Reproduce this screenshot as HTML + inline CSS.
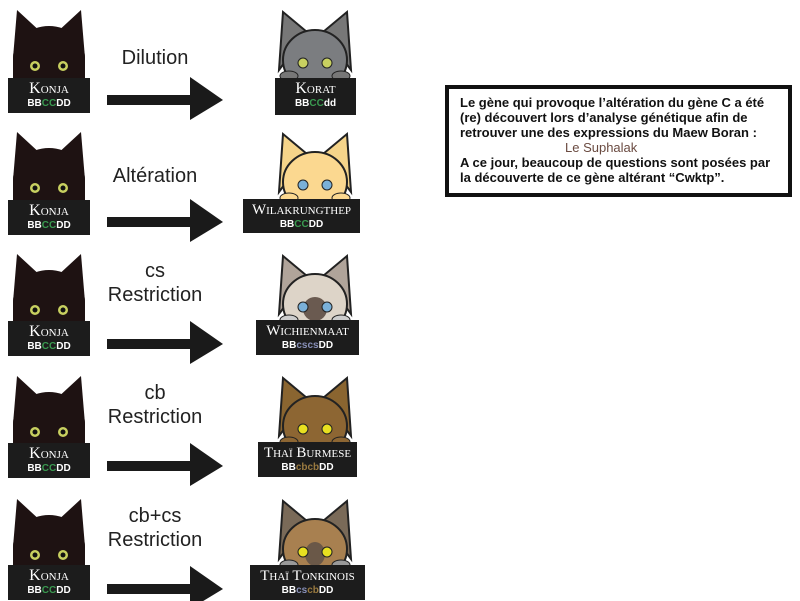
<!DOCTYPE html>
<html><head><meta charset="utf-8"><style>
body{margin:0;background:#fff;width:800px;height:601px;overflow:hidden;position:relative;font-family:"Liberation Sans",sans-serif}
.lbl{position:absolute;background:#1c1c1c;color:#fff;text-align:center;white-space:nowrap;overflow:hidden}
.n{font-family:"Liberation Serif",serif;font-variant:small-caps;font-size:16px;line-height:18px;padding-top:2px}
.g{font-size:10px;font-weight:bold;line-height:12px}
.t{position:absolute;font-size:20px;color:#222;text-align:center;width:140px;line-height:24px}
.box{position:absolute;left:445px;top:85px;width:347px;height:112px;border:4px solid #111;font-size:13px;font-weight:bold;line-height:15px;padding:6px 0 0 11px;box-sizing:border-box;color:#111;white-space:nowrap}
</style></head><body>
<svg width="800" height="601" style="position:absolute;left:0;top:0">
<defs>
<g id="arrow"><rect x="107" y="95" width="85" height="10" fill="#1a1a1a"/><polygon points="190,77 223,100 190,120" fill="#1a1a1a"/></g>
<g id="konja">
<polygon points="4,50 8,2 34,26" fill="#1e1212"/><polygon points="76,50 72,2 46,26" fill="#1e1212"/>
<ellipse cx="40" cy="50" rx="36" ry="32" fill="#1e1212"/>
<rect x="4" y="50" width="72" height="22" fill="#1e1212"/>
<circle cx="26" cy="58" r="5" fill="#c8d060"/><circle cx="26" cy="58" r="2.5" fill="#111"/>
<circle cx="54" cy="58" r="5" fill="#c8d060"/><circle cx="54" cy="58" r="2.5" fill="#111"/>
</g>
</defs>
<use href="#konja" transform="translate(9,8)"/><use href="#konja" transform="translate(9,130)"/><use href="#konja" transform="translate(9,252)"/><use href="#konja" transform="translate(9,374)"/><use href="#konja" transform="translate(9,497)"/>
<use href="#arrow"/><use href="#arrow" y="122"/><use href="#arrow" y="244"/><use href="#arrow" y="366"/><use href="#arrow" y="489"/>
<g transform="translate(275,10)">
<polygon points="4,60 8,2 32,22" fill="#777" stroke="#222" stroke-width="2"/><polygon points="76,60 72,2 48,22" fill="#777" stroke="#222" stroke-width="2"/>
<ellipse cx="40" cy="50" rx="32" ry="30" fill="#7b7d80" stroke="#222" stroke-width="2"/>
<circle cx="28" cy="53" r="5" fill="#c8d060" stroke="#222"/><circle cx="52" cy="53" r="5" fill="#c8d060" stroke="#222"/>
<ellipse cx="14" cy="66" rx="9" ry="5" fill="#777" stroke="#222"/><ellipse cx="66" cy="66" rx="9" ry="5" fill="#777" stroke="#222"/>
</g>
<g transform="translate(275,132)">
<polygon points="4,60 8,2 32,22" fill="#f5d48a" stroke="#222" stroke-width="2"/><polygon points="76,60 72,2 48,22" fill="#f5d48a" stroke="#222" stroke-width="2"/>
<ellipse cx="40" cy="50" rx="32" ry="30" fill="#fbd890" stroke="#222" stroke-width="2"/>
<circle cx="28" cy="53" r="5" fill="#7ab0d8" stroke="#222"/><circle cx="52" cy="53" r="5" fill="#7ab0d8" stroke="#222"/>
<ellipse cx="14" cy="66" rx="9" ry="5" fill="#fbd890" stroke="#222"/><ellipse cx="66" cy="66" rx="9" ry="5" fill="#fbd890" stroke="#222"/>
</g>
<g transform="translate(275,254)">
<polygon points="4,60 8,2 32,22" fill="#b0a49a" stroke="#222" stroke-width="2"/><polygon points="76,60 72,2 48,22" fill="#b0a49a" stroke="#222" stroke-width="2"/>
<ellipse cx="40" cy="50" rx="32" ry="30" fill="#ddd4c8" stroke="#222" stroke-width="2"/>
<ellipse cx="40" cy="55" rx="12" ry="12" fill="#6a5a50"/>
<circle cx="28" cy="53" r="5" fill="#7ab0d8" stroke="#222"/><circle cx="52" cy="53" r="5" fill="#7ab0d8" stroke="#222"/>
<ellipse cx="14" cy="66" rx="9" ry="5" fill="#ccc" stroke="#222"/><ellipse cx="66" cy="66" rx="9" ry="5" fill="#ccc" stroke="#222"/>
</g>
<g transform="translate(275,376)">
<polygon points="4,60 8,2 32,22" fill="#8a6530" stroke="#222" stroke-width="2"/><polygon points="76,60 72,2 48,22" fill="#8a6530" stroke="#222" stroke-width="2"/>
<ellipse cx="40" cy="50" rx="32" ry="30" fill="#8d6633" stroke="#222" stroke-width="2"/>
<circle cx="28" cy="53" r="5" fill="#e8e020" stroke="#222"/><circle cx="52" cy="53" r="5" fill="#e8e020" stroke="#222"/>
<ellipse cx="14" cy="66" rx="9" ry="5" fill="#8d6633" stroke="#222"/><ellipse cx="66" cy="66" rx="9" ry="5" fill="#8d6633" stroke="#222"/>
</g>
<g transform="translate(275,499)">
<polygon points="4,60 8,2 32,22" fill="#7a6a58" stroke="#222" stroke-width="2"/><polygon points="76,60 72,2 48,22" fill="#7a6a58" stroke="#222" stroke-width="2"/>
<ellipse cx="40" cy="50" rx="32" ry="30" fill="#a88050" stroke="#222" stroke-width="2"/>
<ellipse cx="40" cy="55" rx="10" ry="12" fill="#6a5848"/>
<circle cx="28" cy="53" r="5" fill="#e8e020" stroke="#222"/><circle cx="52" cy="53" r="5" fill="#e8e020" stroke="#222"/>
<ellipse cx="14" cy="66" rx="9" ry="5" fill="#999" stroke="#222"/><ellipse cx="66" cy="66" rx="9" ry="5" fill="#999" stroke="#222"/>
</g>
</svg>

<div class="lbl" style="left:8px;top:78px;width:82px;height:35px"><div class="n">Konja</div><div class="g">BB<span style="color:#3a9a50">CC</span>DD</div></div>
<div class="lbl" style="left:8px;top:200px;width:82px;height:35px"><div class="n">Konja</div><div class="g">BB<span style="color:#3a9a50">CC</span>DD</div></div>
<div class="lbl" style="left:8px;top:321px;width:82px;height:35px"><div class="n">Konja</div><div class="g">BB<span style="color:#3a9a50">CC</span>DD</div></div>
<div class="lbl" style="left:8px;top:443px;width:82px;height:35px"><div class="n">Konja</div><div class="g">BB<span style="color:#3a9a50">CC</span>DD</div></div>
<div class="lbl" style="left:8px;top:565px;width:82px;height:35px"><div class="n">Konja</div><div class="g">BB<span style="color:#3a9a50">CC</span>DD</div></div>

<div class="t" style="left:85px;top:46px">Dilution</div>
<div class="t" style="left:85px;top:164px">Altération</div>
<div class="t" style="left:85px;top:259px">cs<br>Restriction</div>
<div class="t" style="left:85px;top:381px">cb<br>Restriction</div>
<div class="t" style="left:85px;top:504px">cb+cs<br>Restriction</div>

<div class="lbl" style="left:275px;top:78px;width:81px;height:37px"><div class="n">Korat</div><div class="g">BB<span style="color:#3a9a50">CC</span>dd</div></div>
<div class="lbl" style="left:243px;top:199px;width:117px;height:34px"><div class="n" style="font-size:15px">Wilakrungthep</div><div class="g">BB<span style="color:#3a9a50">CC</span>DD</div></div>
<div class="lbl" style="left:256px;top:320px;width:103px;height:35px"><div class="n" style="font-size:15px">Wichienmaat</div><div class="g">BB<span style="color:#8890b8">cscs</span>DD</div></div>
<div class="lbl" style="left:258px;top:442px;width:99px;height:35px"><div class="n" style="font-size:15px">Thaï Burmese</div><div class="g">BB<span style="color:#9a7a40">cbcb</span>DD</div></div>
<div class="lbl" style="left:250px;top:565px;width:115px;height:35px"><div class="n" style="font-size:15px">Thaï Tonkinois</div><div class="g">BB<span style="color:#8890b8">cs</span><span style="color:#9a7a40">cb</span>DD</div></div>

<div class="box">Le gène qui provoque l’altération du gène C a été<br>(re) découvert lors d’analyse génétique afin de<br>retrouver une des expressions du Maew Boran :<br><span style="padding-left:105px;color:#6a4a40;font-weight:normal">Le Suphalak</span><br>A ce jour, beaucoup de questions sont posées par<br>la découverte de ce gène altérant “Cwktp”.</div>
</body></html>
